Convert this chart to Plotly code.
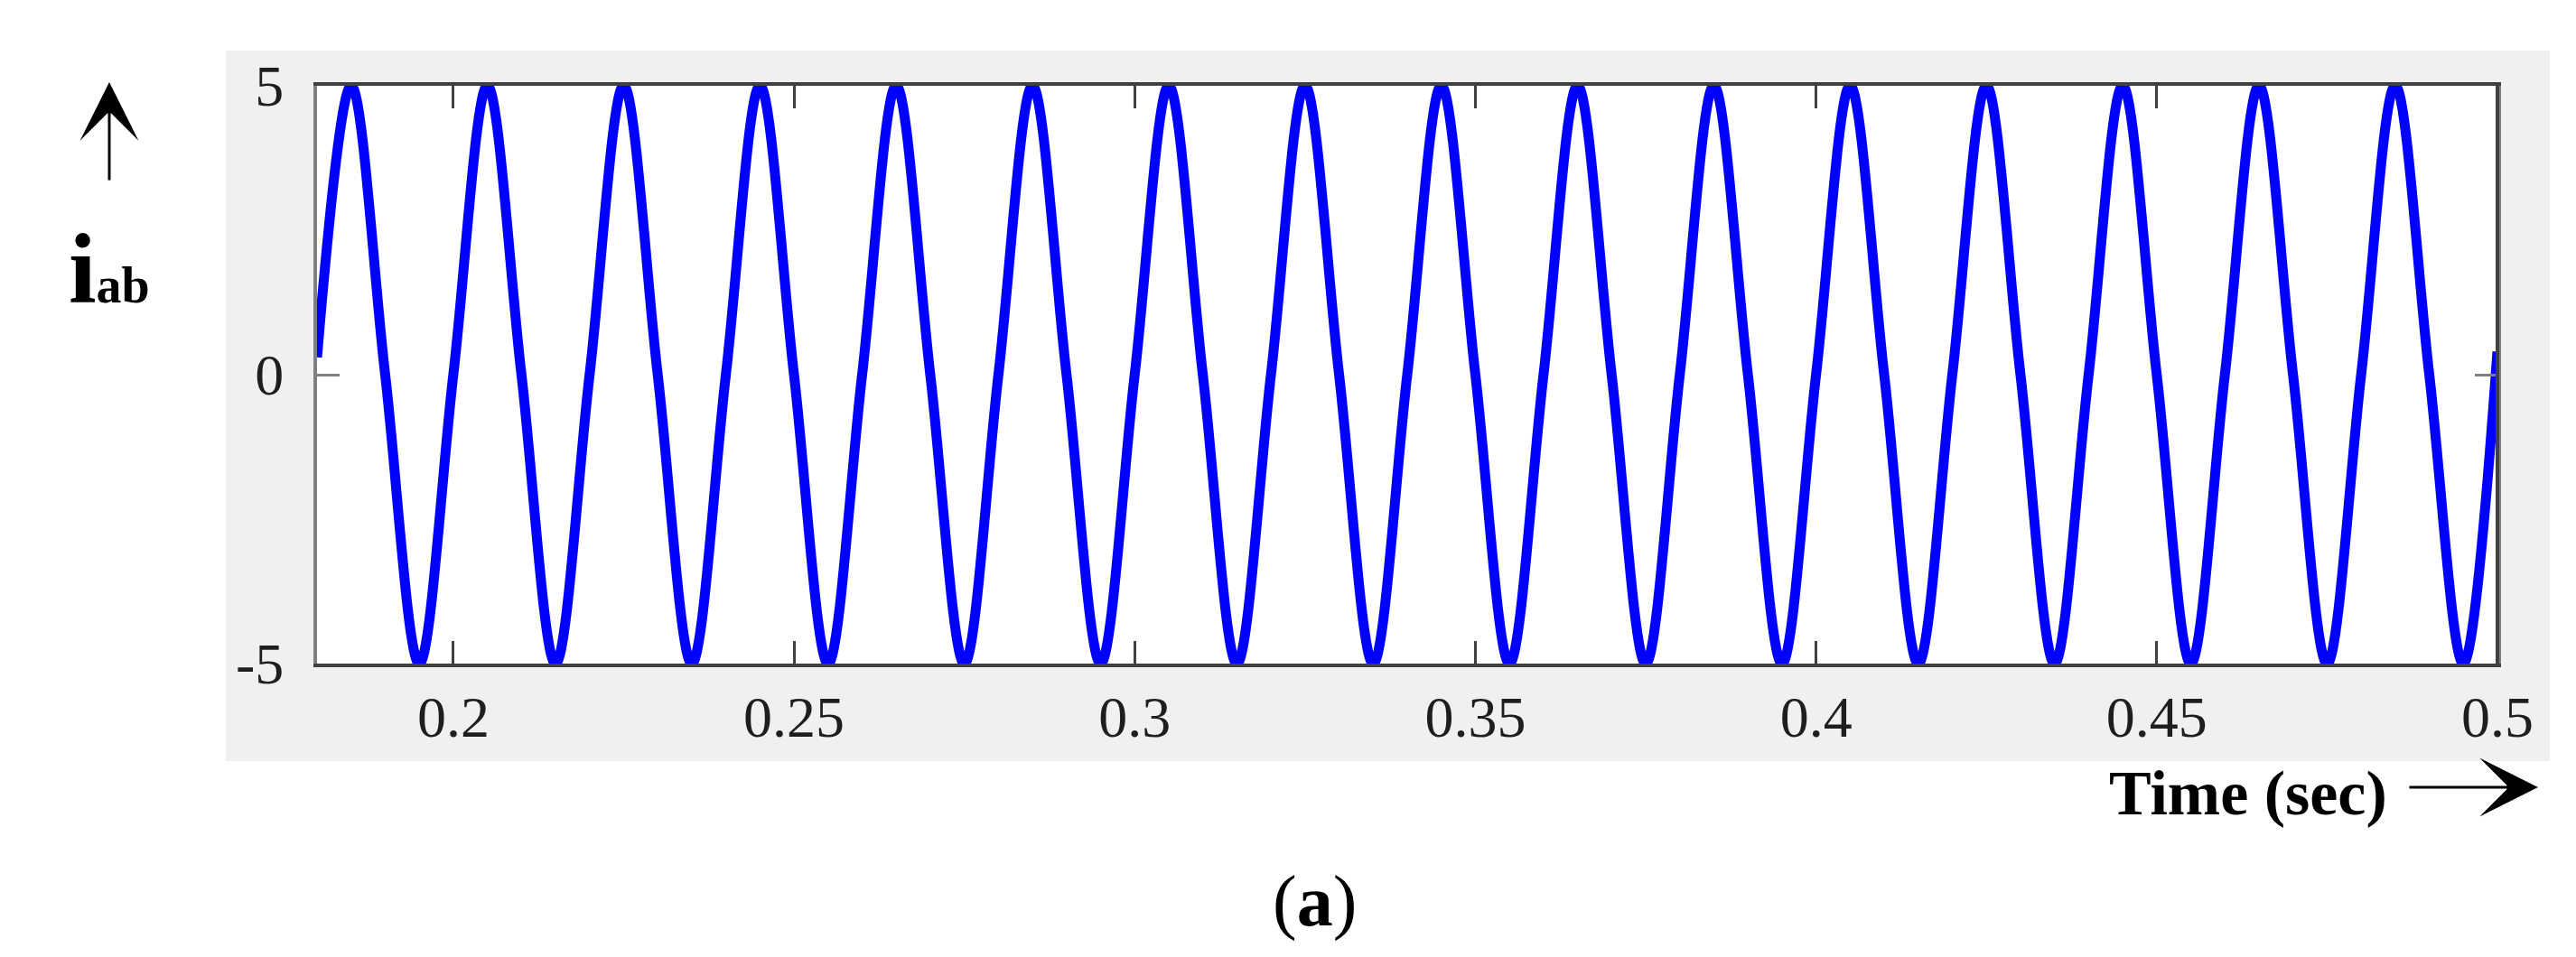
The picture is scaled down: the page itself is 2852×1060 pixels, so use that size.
import plotly.graph_objects as go

time_s = [
    0.18, 0.185, 0.19, 0.195, 0.20, 0.205, 0.21, 0.215, 0.22, 0.225, 0.23, 0.235,
    0.24, 0.245, 0.25, 0.255, 0.26, 0.265, 0.27, 0.275, 0.28, 0.285, 0.29, 0.295,
    0.30, 0.305, 0.31, 0.315, 0.32, 0.325, 0.33, 0.335, 0.34, 0.345, 0.35, 0.355,
    0.36, 0.365, 0.37, 0.375, 0.38, 0.385, 0.39, 0.395, 0.40, 0.405, 0.41, 0.415,
    0.42, 0.425, 0.43, 0.435, 0.44, 0.445, 0.45, 0.455, 0.46, 0.465, 0.47, 0.475,
    0.48, 0.485, 0.49, 0.495, 0.50,
]
i_ab = [
    0.3, 5, 0, -5, 0, 5, 0, -5, 0, 5, 0, -5,
    0, 5, 0, -5, 0, 5, 0, -5, 0, 5, 0, -5,
    0, 5, 0, -5, 0, 5, 0, -5, 0, 5, 0, -5,
    0, 5, 0, -5, 0, 5, 0, -5, 0, 5, 0, -5,
    0, 5, 0, -5, 0, 5, 0, -5, 0, 5, 0, -5,
    0, 5, 0, -5, 0.4,
]

x_ticks = [0.2, 0.25, 0.3, 0.35, 0.4, 0.45, 0.5]
x_ticktext = ["0.2", "0.25", "0.3", "0.35", "0.4", "0.45", "0.5"]
y_ticks = [-5, 0, 5]
y_ticktext = ["-5", "0", "5"]

W, H = 2852, 1060
L, R, T, B = 343, 2757, 87, 727
SERIF = "Liberation Serif, Times New Roman, serif"


def px_x(p):
    return (p - L) / (R - L)


def px_y(p):
    return (B - p) / (B - T)


fig = go.Figure()
fig.add_trace(
    go.Scatter(
        x=time_s,
        y=i_ab,
        mode="lines",
        line=dict(color="#0000ff", width=11, shape="spline", smoothing=1.0),
        showlegend=False,
        hoverinfo="skip",
    )
)

# grey figure panel and white axes area
fig.add_shape(type="rect", xref="paper", yref="paper",
              x0=px_x(242), x1=px_x(2815), y0=px_y(835), y1=px_y(48),
              fillcolor="#f0f0f0", line=dict(width=0), layer="below")
fig.add_shape(type="rect", xref="paper", yref="paper", x0=0, x1=1, y0=0, y1=1,
              fillcolor="white", line=dict(width=0), layer="below")
fig.add_shape(type="line", xref="paper", yref="paper", x0=1, x1=1, y0=0, y1=1,
              line=dict(color="#404040", width=4), layer="above")

fig.add_annotation(
    xref="paper", yref="paper", x=px_x(66), y=px_y(290),
    xanchor="left", yanchor="middle", showarrow=False,
    text="<b>i<span style='font-size:56px'>ab</span></b>",
    font=dict(family=SERIF, size=110, color="black"),
)
fig.add_annotation(
    xref="paper", yref="paper", x=px_x(113), y=px_y(83), ax=0, ay=110,
    text="", showarrow=True, arrowhead=3, arrowwidth=3, arrowsize=3.6,
    arrowcolor="black",
)
fig.add_annotation(
    xref="paper", yref="paper", x=px_x(2637), y=px_y(870),
    xanchor="right", yanchor="middle", showarrow=False,
    text="<b>Time (sec)</b>",
    font=dict(family=SERIF, size=70, color="black"),
)
fig.add_annotation(
    xref="paper", yref="paper", x=px_x(2802), y=px_y(864), ax=-144, ay=0,
    text="", showarrow=True, arrowhead=3, arrowwidth=3, arrowsize=3.6,
    arrowcolor="black",
)
fig.add_annotation(
    xref="paper", yref="paper", x=px_x(1447), y=px_y(990),
    xanchor="center", yanchor="middle", showarrow=False,
    text="(<b>a</b>)",
    font=dict(family=SERIF, size=80, color="black"),
)

fig.update_layout(
    width=W,
    height=H,
    autosize=False,
    margin=dict(l=L, r=W - R, t=T, b=H - B),
    paper_bgcolor="white",
    plot_bgcolor="rgba(0,0,0,0)",
    xaxis=dict(
        range=[0.18, 0.5],
        tickvals=x_ticks,
        ticktext=x_ticktext,
        ticks="inside",
        ticklen=25,
        tickwidth=3,
        tickcolor="#404040",
        showline=True,
        linewidth=4,
        linecolor="#404040",
        mirror="ticks",
        showgrid=False,
        zeroline=False,
        ticklabelstandoff=0,
        tickfont=dict(family=SERIF, size=64, color="#1e1e1e"),
    ),
    yaxis=dict(
        range=[-5, 5],
        tickvals=y_ticks,
        ticktext=y_ticktext,
        ticks="inside",
        ticklen=25,
        tickwidth=3,
        tickcolor="#808080",
        showline=True,
        linewidth=4,
        linecolor="#808080",
        mirror="ticks",
        showgrid=False,
        zeroline=False,
        ticklabelstandoff=20,
        tickfont=dict(family=SERIF, size=64, color="#1e1e1e"),
    ),
)

fig.write_html("out.html")
